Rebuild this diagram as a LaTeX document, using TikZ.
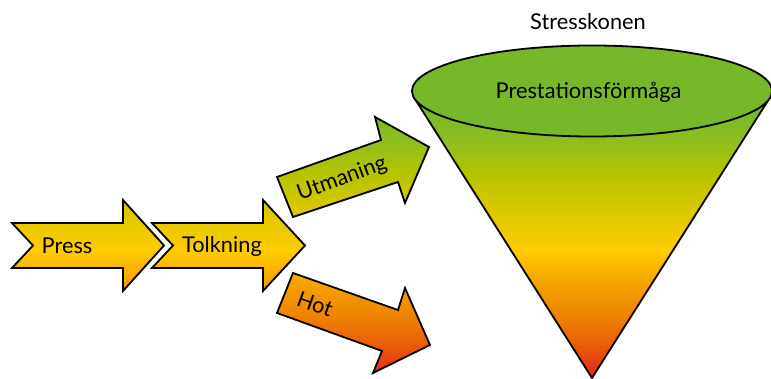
\documentclass[tikz,border=0pt]{standalone}
\usepackage{fontspec}
\setmainfont{Lato}
\begin{document}
% Colours of the stress scale, from calm (green) to overload (red)
\definecolor{sgreen}{HTML}{76B82A}
\definecolor{sgreenb}{HTML}{8FBE20}
\definecolor{slime}{HTML}{B5C300}
\definecolor{solive}{HTML}{D6C800}
\definecolor{sgold}{HTML}{FFCC00}
\definecolor{sorange}{HTML}{F5A300}
\definecolor{sorangeb}{HTML}{EE8200}
\definecolor{sred}{HTML}{E85A0A}
\definecolor{sdeep}{HTML}{E2231A}
% One vertical scale for the whole page (0bp = bottom, 100bp = top;
% the page maps to 25bp..75bp)
\pgfdeclareverticalshading{stressscale}{100bp}{%
  color(0bp)=(sdeep); color(25bp)=(sdeep); color(29.22bp)=(sred);
  color(33.18bp)=(sorangeb); color(37.66bp)=(sorange); color(42.02bp)=(sgold);
  color(47.69bp)=(solive); color(52.18bp)=(slime); color(56.53bp)=(sgreenb);
  color(60.49bp)=(sgreen); color(100bp)=(sgreen)}
\newcommand\scalefill[1]{%
  \begin{scope}
    \clip #1;
    \shade[shading=stressscale] (0,0) rectangle (771,379);
  \end{scope}
  \draw[outline] #1;}
\begin{tikzpicture}[x=1pt,y=-1pt,
  outline/.style={draw=black,line width=1.8pt,line join=miter},
  label/.style={font=\fontsize{21.8}{26}\selectfont,text=black,inner sep=0pt}]
\useasboundingbox (0,0) rectangle (771,379);

% Cone: body below the rim
\scalefill{(592,378) -- (414.3,98) -- (769.7,98) -- cycle}
% Rim of the cone
\draw[outline,fill=sgreen] (592,91) ellipse [x radius=180, y radius=45.5];
\node[label] (capacity) at (588.5,92) {Prestationsförmåga};
\node[label] (title) at (588,22) {Stresskonen};

% Pressure arrows
\scalefill{(12,223) -- (123,223) -- (123,200) -- (164,245.5) -- (123,291) -- (123,268) -- (12,268) -- (33,245.5) -- cycle}
\scalefill{(152,223) -- (263,223) -- (263,200) -- (305,245.5) -- (263,291) -- (263,268) -- (152,268) -- (173,245.5) -- cycle}
\node[label] (press) at (67,246) {Press};
\node[label] (interp) at (222,246) {Tolkning};

% Challenge arrow, upward
\scalefill{(293,217) -- (277,177) -- (381,140) -- (375,117) -- (429,147) -- (405,203) -- (398,182) -- cycle}
\node[label,rotate=20] (challenge) at (342,179) {Utmaning};

% Threat arrow, downward
\scalefill{(293,273) -- (277,313) -- (382,351) -- (373,373) -- (430,345) -- (405,288) -- (398,310) -- cycle}
\node[label,rotate=-20] (threat) at (315,304) {Hot};
\end{tikzpicture}
\end{document}
